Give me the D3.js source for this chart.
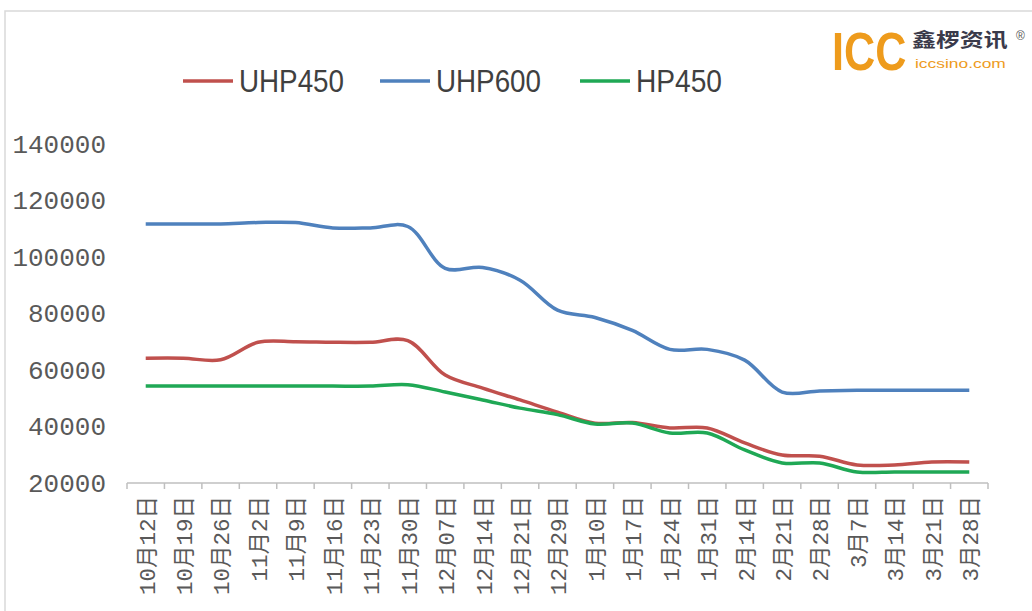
<!DOCTYPE html>
<html>
<head>
<meta charset="utf-8">
<script src="https://cdn.jsdelivr.net/npm/d3@7"></script>
<style>
  body { margin: 0; background: #fff; }
  svg { display: block; }
</style>
</head>
<body>
<div id="plot"></div>
<script>
// categories (weekly dates)
const dates = ["10月12日","10月19日","10月26日","11月2日","11月9日","11月16日","11月23日","11月30日",
  "12月07日","12月14日","12月21日","12月29日","1月10日","1月17日","1月24日","1月31日",
  "2月14日","2月21日","2月28日","3月7日","3月14日","3月21日","3月28日"];

const uhp450 = [64200,64200,63600,69800,70000,69800,69800,70400,58200,53600,49400,45100,
  41200,41400,39500,39500,34200,29900,29500,26400,26400,27400,27400];
const uhp600 = [111700,111700,111700,112200,112200,110300,110300,110800,96000,96300,91800,81200,
  78600,74000,67300,67300,63500,52200,52600,52800,52800,52800,52800];
const hp450 = [54300,54300,54300,54300,54300,54300,54300,54800,52200,49400,46500,44200,
  40900,41200,37700,37700,31700,27100,27100,23900,23900,23900,23900];

const yTicks = [20000,40000,60000,80000,100000,120000,140000];

const series = [
  {name: "UHP450", values: uhp450, color: "#C0504D"},
  {name: "UHP600", values: uhp600, color: "#4F81BD"},
  {name: "HP450", values: hp450, color: "#1FA855"}
];

const width = 1032, height = 611;

const svg = d3.select("#plot").append("svg")
  .attr("width", width)
  .attr("height", height);

// outer frame
svg.append("path")
  .attr("d", `M5,${height} V11 H${width}`)
  .attr("fill", "none")
  .attr("stroke", "#d9d9d9")
  .attr("stroke-width", 1.5);

const x = d3.scalePoint().domain(dates).range([127, 988]).padding(0.5);
const y = d3.scaleLinear().domain([20000, 140000]).range([483, 144]);

// y labels, no axis line
svg.append("g")
  .attr("transform", "translate(106,0)")
  .call(d3.axisLeft(y).tickValues(yTicks).tickSize(0).tickPadding(0).tickFormat(d3.format("d")))
  .call(g => g.select(".domain").remove())
  .call(g => g.selectAll("text")
    .attr("font-family", "'Liberation Mono', 'DejaVu Sans Mono', monospace")
    .attr("font-size", 26)
    .attr("fill", "#595959"));

// x axis with ticks between categories
const step = x.step();
const xAxis = svg.append("g").attr("transform", "translate(0,483)");
xAxis.append("line")
  .attr("x1", 127).attr("x2", 988)
  .attr("stroke", "#bfbfbf").attr("stroke-width", 1.5);
xAxis.selectAll("line.tk")
  .data(d3.range(dates.length + 1))
  .join("line")
  .attr("class", "tk")
  .attr("x1", i => 127 + i * step).attr("x2", i => 127 + i * step)
  .attr("y1", 0).attr("y2", 6)
  .attr("stroke", "#bfbfbf").attr("stroke-width", 1.5);
xAxis.selectAll("text")
  .data(dates)
  .join("text")
  .attr("transform", d => `translate(${x(d) + 1},13) rotate(-90)`)
  .attr("text-anchor", "end")
  .attr("dy", "0.35em")
  .attr("font-family", "'Liberation Mono', 'Noto Sans CJK SC', monospace")
  .attr("font-size", 22.5)
  .attr("fill", "#595959")
  .text(d => d);

// lines
const line = d3.line()
  .x((d, i) => x(dates[i]))
  .y(d => y(d))
  .curve(d3.curveCatmullRom.alpha(0.5));

svg.append("g")
  .selectAll("path")
  .data(series)
  .join("path")
  .attr("fill", "none")
  .attr("stroke", d => d.color)
  .attr("stroke-width", 3.5)
  .attr("stroke-linejoin", "round")
  .attr("d", d => line(d.values));

// legend
const legendX = [183, 380, 580];
const legendW = [105, 105, 86];
const legend = svg.append("g").attr("transform", "translate(0,81)");
series.forEach((s, i) => {
  legend.append("line")
    .attr("x1", legendX[i]).attr("x2", legendX[i] + 50)
    .attr("stroke", s.color).attr("stroke-width", 3.5);
  legend.append("text")
    .attr("x", legendX[i] + 56)
    .attr("dy", "0.35em")
    .attr("font-family", "'Liberation Sans Narrow', 'Liberation Sans', sans-serif")
    .attr("font-size", 31)
    .attr("textLength", legendW[i])
    .attr("lengthAdjust", "spacingAndGlyphs")
    .attr("fill", "#404040")
    .text(s.name);
});

// logo
const logo = svg.append("g");
logo.append("text")
  .attr("transform", "translate(832,70) scale(0.8,1)")
  .attr("font-family", "'Liberation Sans', sans-serif")
  .attr("font-weight", "bold")
  .attr("font-size", 54)
  .attr("fill", "#EE9B1C")
  .text("ICC");
logo.append("text")
  .attr("transform", "translate(912,47) scale(1.26,1)")
  .attr("font-family", "'Noto Sans CJK SC', sans-serif")
  .attr("font-weight", "bold")
  .attr("font-size", 19)
  .attr("fill", "#3a3a4a")
  .text("鑫椤资讯");
logo.append("text")
  .attr("transform", "translate(915,68) scale(1.45,1)")
  .attr("font-family", "'Liberation Sans', sans-serif")
  .attr("font-size", 12)
  .attr("fill", "#EE9B1C")
  .text("iccsino.com");
logo.append("text")
  .attr("x", 1016).attr("y", 40)
  .attr("font-family", "'Liberation Sans', sans-serif")
  .attr("font-size", 12)
  .attr("fill", "#555")
  .text("®");
</script>
</body>
</html>
